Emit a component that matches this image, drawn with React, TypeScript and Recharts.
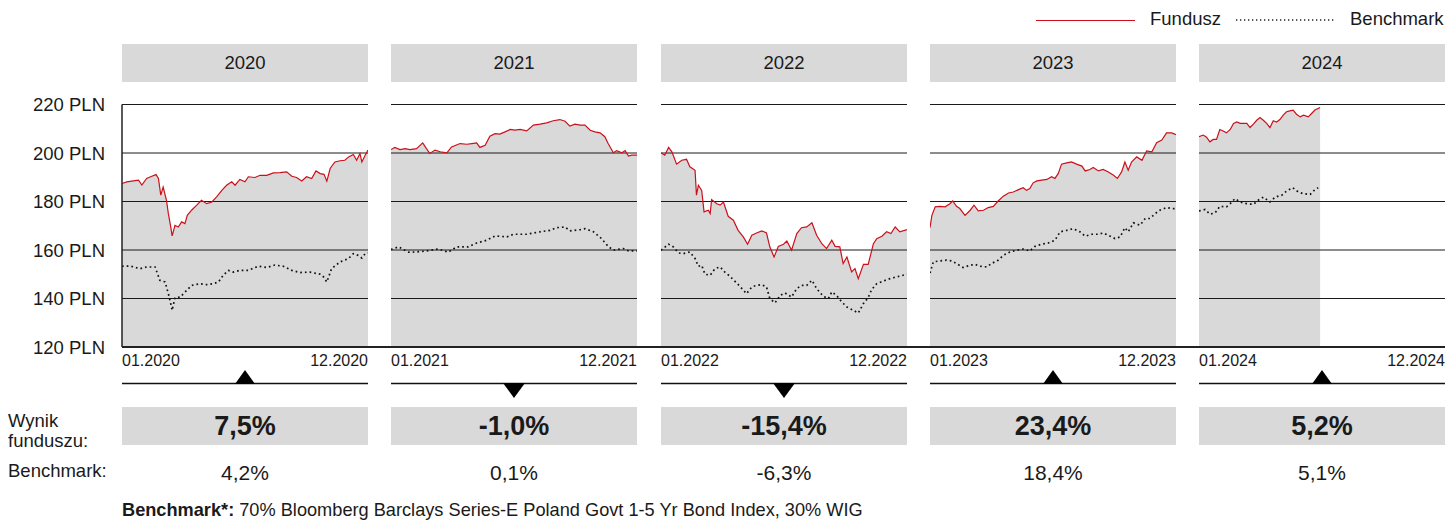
import React from "react";
import { ComposedChart, Area, Line, XAxis, YAxis, ReferenceLine } from "recharts";

const FONT = '"Liberation Sans", Arial, Helvetica, sans-serif';
const RED = "#cc101b";
const GREY = "#d9d9d9";
const INK = "#1a1a1a";

const years = ["2020", "2021", "2022", "2023", "2024"];
const fundReturns = ["7,5%", "-1,0%", "-15,4%", "23,4%", "5,2%"];
const benchReturns = ["4,2%", "0,1%", "-6,3%", "18,4%", "5,1%"];
const yTicks = [120, 140, 160, 180, 200, 220];
const gridValues = [140, 160, 180, 200, 220];

// [week of year, value in PLN]
const fund2020: [number, number][] = [
  [0, 187.4], [1.0, 188.1], [2.4, 188.5], [3.5, 188.8], [4.2, 186.8], [5.2, 189.5], [6.3, 190.4],
  [7.2, 191.1], [7.7, 189.5], [8.2, 182.6], [8.7, 186], [9.4, 180.5], [9.8, 175], [10.3, 169.5],
  [10.6, 165.8], [11.2, 170.2], [11.9, 169.5], [12.6, 171.6], [13.3, 170.9], [13.8, 174.3],
  [14.7, 176.4], [15.8, 178.5], [16.8, 180.5], [17.9, 179.1], [19.0, 179.8], [20.0, 181.9],
  [21.1, 184.6], [22.1, 186.7], [23.2, 188.1], [23.9, 186.7], [24.9, 189.1], [26.0, 188.1],
  [26.7, 190.2], [28.1, 189.9], [29.2, 190.8], [30.6, 190.8], [32.0, 191.8], [33.4, 191.9],
  [34.8, 192.2], [35.9, 190.4], [36.9, 189.9], [38.0, 188.5], [39.0, 190.2], [40.1, 189.5],
  [41.0, 192.6], [41.9, 191.5], [42.7, 191.2], [43.3, 188.4], [44.0, 193.6], [45.0, 196.3],
  [46.1, 196.8], [47.1, 197], [47.9, 198.4], [48.9, 199.4], [49.6, 197], [50.3, 199.8],
  [50.7, 196.3], [51.4, 199.1], [52, 201.2],
];
const bench2020: [number, number][] = [
  [0, 153.3], [1.7, 153.4], [3.8, 152.3], [5.2, 153], [7.0, 153], [8.0, 147.5], [9.1, 146.8],
  [9.8, 142], [10.3, 137.9], [10.6, 135.1], [11.2, 140.4], [12.3, 140.6], [13.7, 143.4],
  [14.7, 145.4], [16.5, 146.1], [17.9, 145.7], [19.3, 146.1], [20.4, 146.8], [21.4, 149.6],
  [22.5, 151.6], [23.5, 150.9], [24.9, 151.6], [26.7, 151.6], [28.8, 153.3], [30.6, 152.8],
  [32.3, 153.8], [34.1, 153.3], [35.9, 151.6], [37.6, 150.7], [39.7, 150.9], [41.9, 150],
  [42.6, 148.9], [43.3, 146.8], [44.3, 152.3], [46.1, 155.1], [47.9, 156.5], [48.9, 158.5],
  [49.9, 157.8], [50.7, 156.7], [51.4, 158.5], [52, 158.8],
];

const fund2021: [number, number][] = [
  [0, 201.4], [0.8, 202.3], [1.9, 201.4], [3.0, 201.8], [4.0, 201.4], [5.4, 201.8], [6.7, 204.2],
  [7.5, 201.8], [8.2, 199.8], [9.3, 201.2], [10.4, 200.5], [11.8, 200.1], [12.8, 202.5],
  [14.6, 203.9], [16.0, 203.6], [17.1, 203.9], [18.1, 204.2], [18.8, 202.3], [19.9, 203.2],
  [20.9, 206.9], [22.0, 208], [23.0, 207.8], [24.1, 208.7], [25.2, 209.7], [26.2, 209.4],
  [27.3, 209.7], [28.7, 209.1], [30.1, 211.5], [31.5, 211.9], [32.9, 212.4], [34.3, 213.3],
  [35.7, 213.8], [36.8, 213.1], [37.8, 211.1], [38.9, 211.9], [40.0, 211.5], [41.0, 211.5],
  [42.1, 209.4], [43.1, 208.7], [44.2, 208.3], [45.2, 206.7], [45.9, 203.9], [47.0, 200.1],
  [47.7, 201], [48.8, 200.1], [49.5, 201], [50.2, 198.7], [50.9, 199.1], [52, 199.1],
];
const bench2021: [number, number][] = [
  [0, 160.2], [1.6, 161.3], [2.6, 160.2], [3.7, 159.1], [5.4, 159.2], [7.5, 159.6], [10.0, 160.4],
  [12.1, 159.1], [13.9, 161.3], [16.3, 161.3], [18.1, 162.9], [20.2, 164], [22.0, 165.8],
  [24.5, 165.4], [25.9, 166.5], [28.7, 166.5], [31.5, 167.5], [33.6, 168.1], [35.0, 169.2],
  [36.8, 169.5], [37.8, 167.9], [40.0, 168.4], [41.0, 168.8], [42.8, 167.5], [44.5, 164.7],
  [45.9, 161.5], [47.0, 159.9], [49.1, 160.6], [50.2, 159.6], [52, 159.6],
];

const fund2022: [number, number][] = [
  [0, 200.1], [0.8, 199.1], [1.6, 202.3], [2.3, 200.5], [3.3, 195.4], [4.4, 197], [5.4, 197.4],
  [6.1, 194.3], [7.2, 192.9], [7.5, 182.6], [7.9, 186.7], [8.6, 184.6], [9.1, 175.7], [10.0, 176.4],
  [10.4, 175], [10.7, 180.8], [11.8, 179.1], [12.5, 178.5], [13.2, 179.8], [14.2, 173.9],
  [15.3, 172.3], [16.3, 168.1], [17.4, 165.4], [18.3, 162.4], [19.2, 166.1], [20.2, 167],
  [21.3, 167.9], [22.3, 167], [23.0, 161.3], [23.9, 157.1], [24.8, 161.5], [25.9, 162.4],
  [26.6, 163.7], [27.6, 159.9], [28.7, 166.8], [29.7, 169.2], [30.8, 169.5], [31.9, 171.2],
  [32.9, 166.1], [34.0, 162.6], [35.0, 160.6], [36.1, 164], [36.8, 161.5], [37.8, 161.3],
  [38.5, 154.4], [39.3, 157.1], [40.3, 151], [41.0, 152.3], [41.7, 148.2], [42.8, 154.1],
  [43.8, 154.1], [44.9, 162.6], [45.6, 164.7], [46.7, 165.7], [47.7, 167.5], [48.6, 166.8],
  [49.5, 169.5], [50.5, 167.5], [52, 168.4],
];
const bench2022: [number, number][] = [
  [0, 159.9], [1.6, 162.4], [2.6, 161.3], [3.7, 158.8], [4.7, 158.5], [6.1, 159.2], [7.2, 156.5],
  [7.9, 153.3], [8.6, 153.7], [9.3, 150], [10.4, 149.6], [11.4, 152.3], [12.5, 153], [13.5, 150.9],
  [14.6, 149.1], [16.0, 146.4], [17.1, 144.1], [18.1, 142], [19.2, 144.8], [20.2, 145.4],
  [21.3, 145.7], [22.3, 144.8], [23.0, 140], [24.1, 138.2], [25.2, 141.3], [26.2, 142.3],
  [27.6, 140.6], [28.7, 144.1], [29.7, 145.4], [30.8, 145.4], [31.9, 147.5], [32.9, 144.1],
  [34.3, 140.9], [35.4, 140], [36.1, 142.7], [37.1, 141.3], [38.2, 138.6], [39.3, 136.5],
  [40.7, 135.1], [41.7, 134], [42.8, 137.9], [43.8, 140.4], [44.5, 143.6], [45.6, 146.1],
  [47.0, 147.2], [48.4, 148.2], [49.8, 148.9], [52, 150],
];

const fund2023: [number, number][] = [
  [0, 169.2], [0.4, 174.3], [1.1, 177.8], [2.1, 178], [3.2, 177.8], [4.2, 179.1], [4.8, 180.2],
  [5.6, 178], [6.3, 177.1], [7.4, 174.3], [8.5, 176.4], [9.3, 178.5], [10.2, 176.1], [11.3, 176.4],
  [12.3, 177.5], [13.4, 178], [14.4, 180.2], [15.5, 182.2], [16.6, 183.5], [17.6, 183.9],
  [18.7, 184.9], [19.7, 185.7], [20.4, 184.6], [21.1, 185.3], [21.8, 187.7], [22.6, 188.5],
  [23.6, 188.8], [24.7, 189.1], [25.7, 190.2], [26.4, 189.5], [27.1, 191.5], [27.8, 195.4],
  [28.9, 195.9], [29.9, 196.3], [31.0, 195.4], [32.1, 194.6], [32.8, 192.6], [33.8, 193.2],
  [34.5, 194], [35.6, 192.6], [36.6, 193.2], [37.7, 192.2], [38.8, 190.8], [39.6, 189.5],
  [40.5, 192.2], [41.2, 196.3], [41.9, 192.9], [42.6, 196.3], [43.7, 198.4], [44.8, 197],
  [45.8, 200.9], [46.9, 200.5], [47.9, 204.2], [49.0, 205.3], [50.0, 208.3], [51.1, 208.3],
  [52, 207.6],
];
const bench2023: [number, number][] = [
  [0, 150.5], [0.7, 155.1], [2.1, 155.5], [3.5, 155.8], [4.6, 155.5], [5.6, 154.4], [7.0, 152.8],
  [8.5, 153.7], [9.5, 154.1], [10.6, 153.3], [12.0, 153], [13.0, 154.4], [14.4, 155.8],
  [15.5, 157.8], [16.9, 159.2], [18.3, 159.9], [19.7, 160.4], [21.1, 159.6], [22.2, 161.5],
  [23.6, 162.4], [25.0, 162.9], [26.4, 164], [27.5, 167.5], [28.9, 168.1], [30.3, 168.8],
  [31.7, 167.5], [32.8, 165.7], [34.2, 166.5], [35.6, 166.5], [36.6, 167], [38.1, 165.7],
  [39.1, 164.7], [40.2, 165.4], [41.2, 169.2], [41.9, 167.5], [43.0, 171.2], [44.4, 170.2],
  [45.5, 173], [46.5, 173], [47.6, 175], [48.6, 176.4], [50.0, 177.5], [51.1, 177.1], [52, 177.1],
];

const fund2024: [number, number][] = [
  [0, 206.7], [0.9, 207.4], [1.6, 206.5], [2.3, 204.6], [3.0, 205.6], [3.7, 205.6], [4.4, 209.7],
  [5.1, 209.1], [5.8, 208.3], [6.6, 209.7], [7.3, 212.2], [8.0, 212.8], [8.7, 212.2], [9.4, 212.2],
  [10.1, 212.2], [10.8, 210.5], [11.5, 211.9], [12.2, 213.5], [12.9, 214.6], [13.6, 213.5],
  [14.3, 212.2], [15.0, 210.5], [15.7, 213.3], [16.4, 212.8], [17.1, 213.8], [17.8, 215.6],
  [18.5, 217], [19.2, 217.4], [19.9, 217.7], [20.6, 216], [21.4, 214.9], [22.1, 215.6],
  [23.1, 214.9], [23.8, 216.3], [24.5, 217.7], [25.6, 218.8],
];
const bench2024: [number, number][] = [
  [0, 176.1], [1.3, 176.7], [2.3, 174.8], [3.4, 175.3], [4.4, 178], [5.8, 177.8], [6.6, 179.1],
  [7.6, 181.2], [8.7, 179.8], [10.1, 179.1], [11.5, 178.8], [12.5, 180.5], [13.6, 181.8],
  [15.0, 179.8], [16.1, 181.8], [17.5, 182.6], [18.5, 184.3], [19.8, 185.7], [21.0, 183.9],
  [22.1, 183.2], [23.5, 182.9], [24.5, 184.9], [25.2, 185.7],
];

const fundSeries = [fund2020, fund2021, fund2022, fund2023, fund2024];
const benchSeries = [bench2020, bench2021, bench2022, bench2023, bench2024];

const PANEL_LEFT = [122, 391, 661, 930, 1199];
const PANEL_W = 246;
const AXIS_W = 122;

const toRows = (pts: [number, number][]) => pts.map(([w, v]) => ({ w, v }));

function PeriodTick(props: any) {
  const { x, y, payload, year } = props;
  const first = payload.value === 0;
  return (
    <text
      x={x}
      y={y + 19}
      textAnchor={first ? "start" : "end"}
      fontSize={16}
      fontFamily={FONT}
      fill={INK}
    >
      {first ? `01.${year}` : `12.${year}`}
    </text>
  );
}

function YearPanel({ i }: { i: number }) {
  const withAxis = i === 0;
  const fund = toRows(fundSeries[i]);
  const bench = toRows(benchSeries[i]);
  return (
    <div
      style={{
        position: "absolute",
        left: withAxis ? PANEL_LEFT[0] - AXIS_W : PANEL_LEFT[i],
        top: 94,
      }}
    >
      <ComposedChart
        width={withAxis ? PANEL_W + AXIS_W : PANEL_W}
        height={283}
        margin={{ top: 10.5, right: 0, bottom: 0, left: 0 }}
      >
        <XAxis
          type="number"
          dataKey="w"
          domain={[0, 52]}
          ticks={[0, 52]}
          interval={0}
          allowDataOverflow
          axisLine={false}
          tickLine={false}
          tickSize={0}
          tickMargin={0}
          height={30}
          tick={(p: any) => <PeriodTick {...p} year={years[i]} />}
        />
        {withAxis ? (
          <YAxis
            type="number"
            domain={[120, 220]}
            ticks={yTicks}
            width={AXIS_W}
            tickLine={false}
            tickSize={0}
            tickMargin={17}
            axisLine={{ stroke: "#222", strokeWidth: 1.5 }}
            tick={{ fontSize: 18.5, fill: INK, fontFamily: FONT }}
            tickFormatter={(v) => `${v} PLN`}
          />
        ) : (
          <YAxis type="number" domain={[120, 220]} hide />
        )}
        <Area
          data={fund}
          dataKey="v"
          type="linear"
          stroke="none"
          fill={GREY}
          fillOpacity={1}
          isAnimationActive={false}
        />
        {gridValues.map((g) => (
          <ReferenceLine key={g} y={g} stroke="#1a1a1a" strokeWidth={1} />
        ))}
        <Line
          data={fund}
          dataKey="v"
          type="linear"
          stroke={RED}
          strokeWidth={1.2}
          dot={false}
          isAnimationActive={false}
        />
        <Line
          data={bench}
          dataKey="v"
          type="linear"
          stroke="#111"
          strokeWidth={1.7}
          strokeDasharray="1.7 3"
          dot={false}
          isAnimationActive={false}
        />
      </ComposedChart>
    </div>
  );
}

function Marker({ i }: { i: number }) {
  const up = !fundReturns[i].startsWith("-");
  const c = PANEL_W / 2;
  return (
    <svg
      width={PANEL_W}
      height={32}
      style={{ position: "absolute", left: PANEL_LEFT[i], top: 368 }}
    >
      <line x1={0} x2={PANEL_W} y1={15.5} y2={15.5} stroke="#111" strokeWidth={1.5} />
      {up ? (
        <polygon points={`${c - 10},16 ${c + 10},16 ${c},2`} fill="#000" />
      ) : (
        <polygon points={`${c - 11},15 ${c + 11},15 ${c},30`} fill="#000" />
      )}
    </svg>
  );
}

export default function App() {
  const txt: React.CSSProperties = { position: "absolute", fontFamily: FONT, color: INK };
  return (
    <div
      style={{
        position: "absolute",
        left: 0,
        top: 0,
        width: 1445,
        height: 522,
        overflow: "hidden",
        background: "#fff",
        fontFamily: FONT,
      }}
    >
      {/* legend */}
      <div style={{ position: "absolute", left: 1036, top: 19.5, width: 99, height: 1, background: RED }} />
      <div style={{ ...txt, left: 1150, top: 9, fontSize: 18.5, lineHeight: "20px" }}>Fundusz</div>
      <svg width={98} height={4} style={{ position: "absolute", left: 1236, top: 18 }}>
        <line x1={0} x2={98} y1={2} y2={2} stroke="#222" strokeWidth={1.3} strokeDasharray="1.3 2.7" />
      </svg>
      <div style={{ ...txt, left: 1350, top: 9, fontSize: 18.5, lineHeight: "20px" }}>Benchmark</div>

      {years.map((y, i) => (
        <div
          key={y}
          style={{
            ...txt,
            left: PANEL_LEFT[i],
            top: 44,
            width: PANEL_W,
            height: 38,
            background: GREY,
            textAlign: "center",
            fontSize: 18.5,
            lineHeight: "38px",
          }}
        >
          {y}
        </div>
      ))}

      {years.map((y, i) => (
        <YearPanel key={y} i={i} />
      ))}

      {/* continuous bottom axis line */}
      <div style={{ position: "absolute", left: 122, top: 346, width: 1323, height: 1.6, background: "#222" }} />

      {years.map((y, i) => (
        <Marker key={y} i={i} />
      ))}

      <div style={{ ...txt, left: 8, top: 411, fontSize: 18.5, lineHeight: "20px" }}>
        Wynik
        <br />
        funduszu:
      </div>
      <div style={{ ...txt, left: 8, top: 461, fontSize: 18.5, lineHeight: "20px" }}>Benchmark:</div>

      {years.map((y, i) => (
        <div
          key={y}
          style={{
            ...txt,
            left: PANEL_LEFT[i],
            top: 407,
            width: PANEL_W,
            height: 38,
            background: GREY,
            textAlign: "center",
            fontSize: 27,
            fontWeight: 700,
            lineHeight: "38px",
          }}
        >
          {fundReturns[i]}
        </div>
      ))}
      {years.map((y, i) => (
        <div
          key={y}
          style={{
            ...txt,
            left: PANEL_LEFT[i],
            top: 461,
            width: PANEL_W,
            textAlign: "center",
            fontSize: 21,
            lineHeight: "24px",
          }}
        >
          {benchReturns[i]}
        </div>
      ))}

      <div style={{ ...txt, left: 122, top: 500, fontSize: 18.2, lineHeight: "20px", whiteSpace: "nowrap" }}>
        <b>Benchmark*:</b> 70% Bloomberg Barclays Series-E Poland Govt 1-5 Yr Bond Index, 30% WIG
      </div>
    </div>
  );
}
